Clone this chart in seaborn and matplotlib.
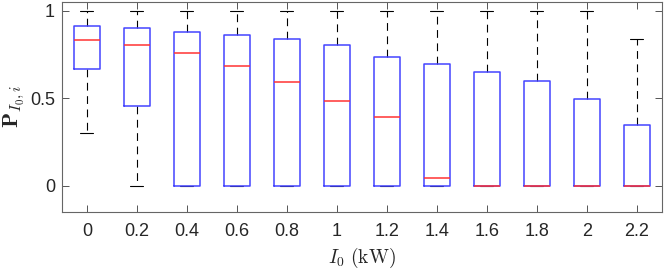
import numpy as np
import pandas as pd
import matplotlib
matplotlib.use("Agg")
import matplotlib.pyplot as plt
import seaborn as sns

# ---- data ----
categories = ["0", "0.2", "0.4", "0.6", "0.8", "1", "1.2", "1.4", "1.6", "1.8", "2", "2.2"]
whisker_low = [0.30, 0.0, 0.0, 0.0, 0.0, 0.0, 0.0, 0.0, 0.0, 0.0, 0.0, 0.0]
q1 = [0.665, 0.453, 0.0, 0.0, 0.0, 0.0, 0.0, 0.0, 0.0, 0.0, 0.0, 0.0]
median = [0.832, 0.801, 0.759, 0.682, 0.590, 0.486, 0.394, 0.042, 0.0, 0.0, 0.0, 0.0]
q3 = [0.912, 0.899, 0.876, 0.859, 0.836, 0.801, 0.736, 0.696, 0.649, 0.598, 0.498, 0.344]
whisker_high = [1.0, 1.0, 1.0, 1.0, 1.0, 1.0, 1.0, 1.0, 1.0, 1.0, 1.0, 0.836]
y_ticks = [0, 0.5, 1]
y_ticklabels = ["0", "0.5", "1"]

# five-number samples reproduce the box statistics exactly
rows = []
for c, a, b, m, d, e in zip(categories, whisker_low, q1, median, q3, whisker_high):
    for v in (a, b, m, d, e):
        rows.append({"I0": c, "P": v})
df = pd.DataFrame(rows)

sns.set_style("white")
plt.rcParams["font.family"] = ["Liberation Sans", "DejaVu Sans"]
plt.rcParams["mathtext.fontset"] = "cm"

fig = plt.figure(figsize=(6.65, 2.71), dpi=100)
ax = fig.add_axes([0.093, 0.218, 0.902, 0.775])

sns.boxplot(
    data=df, x="I0", y="P", order=categories, ax=ax,
    whis=(0, 100), width=0.52, fill=False, showfliers=False,
    boxprops=dict(color="#4444ff", linewidth=1.1, zorder=3),
    medianprops=dict(color="#ff3333", linewidth=1.1, zorder=4),
    whiskerprops=dict(color="black", linewidth=0.8, linestyle=(0, (7, 5)), zorder=1.5),
    capprops=dict(color="black", linewidth=0.8, zorder=1.5),
)

ax.set_xlim(-0.5, 11.5)
ax.set_ylim(-0.15, 1.05)
ax.set_yticks(y_ticks)
ax.set_yticklabels(y_ticklabels)
ax.tick_params(axis="both", direction="in", length=5, width=0.7, color="#555555",
               labelsize=13, top=True, right=True, left=True, bottom=True)
ax.tick_params(axis="x", pad=8)
ax.tick_params(axis="y", pad=5)
for s in ax.spines.values():
    s.set_visible(True)
    s.set_color("#666666")
    s.set_linewidth(0.8)

ax.set_xlabel(r"$I_0\ \mathrm{(kW)}$", fontsize=14, labelpad=4)
ax.set_ylabel(r"$\mathbf{P}_{I_0,i}$", fontsize=16, labelpad=2)

fig.savefig("out.png", dpi=100)
